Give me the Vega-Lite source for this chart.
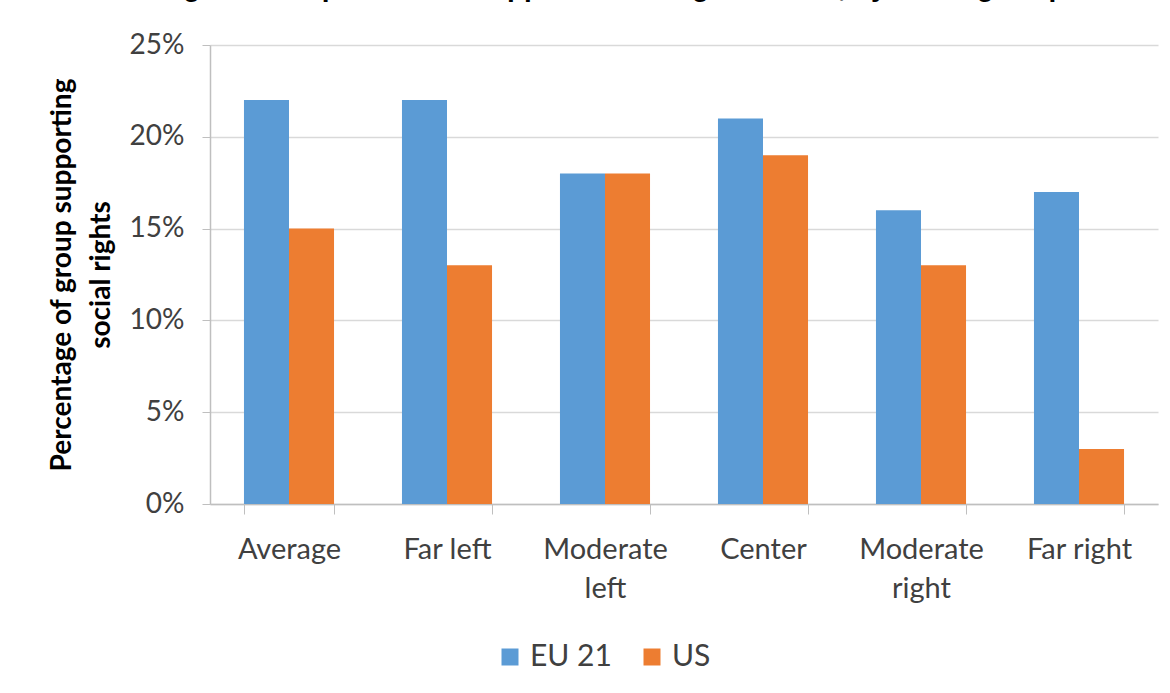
{
  "$schema": "https://vega.github.io/schema/vega-lite/v6.json",
  "width": 948,
  "height": 459,
  "autosize": {"type": "none"},
  "padding": {"left": 210, "top": 45, "right": 12, "bottom": 189},
  "background": "white",
  "title": {
    "text": "Percentage of Europeans who support social rights ideals, by ideological position",
    "font": "Liberation Sans",
    "fontWeight": "bold",
    "fontSize": 28,
    "color": "black",
    "anchor": "start",
    "frame": "bounds",
    "offset": 29,
    "dx": 17
  },
  "data": {
    "values": [
      {"group": "Average", "region": "EU 21", "value": 0.22},
      {"group": "Average", "region": "US", "value": 0.15},
      {"group": "Far left", "region": "EU 21", "value": 0.22},
      {"group": "Far left", "region": "US", "value": 0.13},
      {"group": "Moderate left", "region": "EU 21", "value": 0.18},
      {"group": "Moderate left", "region": "US", "value": 0.18},
      {"group": "Center", "region": "EU 21", "value": 0.21},
      {"group": "Center", "region": "US", "value": 0.19},
      {"group": "Moderate right", "region": "EU 21", "value": 0.16},
      {"group": "Moderate right", "region": "US", "value": 0.13},
      {"group": "Far right", "region": "EU 21", "value": 0.17},
      {"group": "Far right", "region": "US", "value": 0.03}
    ]
  },
  "mark": {"type": "bar"},
  "encoding": {
    "x": {
      "field": "group",
      "type": "nominal",
      "sort": ["Average", "Far left", "Moderate left", "Center", "Moderate right", "Far right"],
      "scale": {"paddingInner": 0.43, "paddingOuter": 0.215},
      "axis": {
        "title": null,
        "labelAngle": 0,
        "labelFont": "Lato",
        "labelFontSize": 29,
        "labelColor": "#404040",
        "labelPadding": 21,
        "labelLineHeight": 39,
        "labelExpr": "datum.value == 'Moderate left' ? ['Moderate', 'left'] : datum.value == 'Moderate right' ? ['Moderate', 'right'] : datum.label",
        "tickBand": "extent",
        "tickSize": 10,
        "tickColor": "#BFBFBF",
        "domainColor": "#BFBFBF",
        "domainWidth": 1.5,
        "grid": false
      }
    },
    "xOffset": {"field": "region", "type": "nominal", "sort": ["EU 21", "US"], "scale": {"paddingInner": 0, "paddingOuter": 0}},
    "y": {
      "field": "value",
      "type": "quantitative",
      "scale": {"domain": [0, 0.25]},
      "axis": {
        "title": ["Percentage of group supporting", "social rights"],
        "titleFont": "Lato",
        "titleFontSize": 28,
        "titleFontWeight": "bold",
        "titleColor": "black",
        "titleLineHeight": 39,
        "titlePadding": 14,
        "format": ".0%",
        "values": [0, 0.05, 0.1, 0.15, 0.2, 0.25],
        "labelOverlap": false,
        "labelFont": "Lato",
        "labelFontSize": 28,
        "labelColor": "#404040",
        "labelPadding": 18,
        "tickSize": 8,
        "tickColor": "#BFBFBF",
        "domainColor": "#BFBFBF",
        "domainWidth": 1.5,
        "gridColor": "#D9D9D9",
        "gridWidth": 1.5
      }
    },
    "color": {
      "field": "region",
      "type": "nominal",
      "sort": ["EU 21", "US"],
      "scale": {"domain": ["EU 21", "US"], "range": ["#5B9BD5", "#ED7D31"]},
      "legend": {
        "title": null,
        "orient": "none",
        "legendX": 285,
        "legendY": 597,
        "direction": "horizontal",
        "symbolType": "square",
        "symbolSize": 289,
        "symbolStrokeWidth": 0,
        "labelFont": "Lato",
        "labelFontSize": 30,
        "labelColor": "#404040",
        "labelOffset": 5,
        "columnPadding": 25
      }
    }
  },
  "config": {
    "view": {"stroke": null}
  }
}
